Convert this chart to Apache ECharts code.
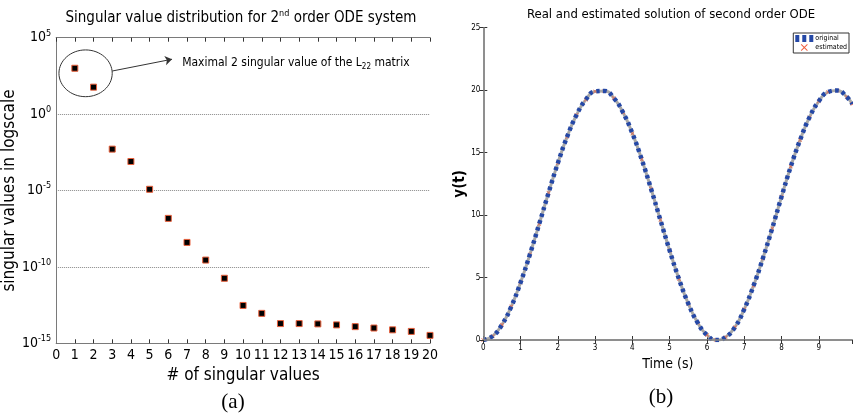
<!DOCTYPE html>
<html><head><meta charset="utf-8">
<script src="https://cdn.jsdelivr.net/npm/echarts@6/dist/echarts.min.js"></script>
<style>html,body{margin:0;padding:0;background:#fff}#c{width:853px;height:417px}</style>
</head><body><div id="c"></div>
<script>
// ---- Panel (a): singular values ----
const svIndex = [1,2,3,4,5,6,7,8,9,10,11,12,13,14,15,16,17,18,19,20];
const svValues = [1.0e3, 5.8e1, 5.1e-3, 7.9e-4, 1.2e-5, 1.5e-7, 4.0e-9, 2.8e-10, 1.8e-11, 3.0e-13,
                  9.1e-14, 1.95e-14, 1.95e-14, 1.86e-14, 1.6e-14, 1.23e-14, 1.0e-14, 7.6e-15, 6.0e-15, 3.3e-15];
// ---- Panel (b): ODE solution ----
const timeS = [0,0.25,0.5,0.75,1,1.25,1.5,1.75,2,2.25,2.5,2.75,3,3.25,3.5,3.75,4,4.25,4.5,4.75,5,
               5.25,5.5,5.75,6,6.25,6.5,6.75,7,7.25,7.5,7.75,8,8.25,8.5,8.75,9,9.25,9.5,9.75,9.9];
const yOriginal = [0,0.31,1.22,2.68,4.6,6.85,9.29,11.78,14.16,16.28,18.01,19.24,19.9,19.94,19.37,18.21,16.54,
                   14.46,12.11,9.62,7.16,4.88,2.91,1.39,0.4,0,0.23,1.02,2.46,4.34,6.53,8.93,11.46,13.89,
                   16.02,17.82,19.11,19.85,19.97,19.46,18.89];
const yEstimated = [0,0.31,1.22,2.68,4.6,6.85,9.29,11.78,14.16,16.28,18.01,19.24,19.9,19.94,19.37,18.21,16.54,
                   14.46,12.11,9.62,7.16,4.88,2.91,1.39,0.4,0,0.23,1.02,2.46,4.34,6.53,8.93,11.46,13.89,
                   16.02,17.82,19.11,19.85,19.97,19.46,18.89];
const legendNames = ['original','estimated'];

const F = '"Liberation Sans Narrow","DejaVu Sans Condensed","Liberation Sans",sans-serif';
const FS = '"Liberation Serif","DejaVu Serif",serif';
const frameCol = '#7a7a7a';
const blue = '#2548a6';

const chart = echarts.init(document.getElementById('c'), null, {renderer:'canvas'});

const svData = svIndex.map((x,i)=>[x, svValues[i]]);
const origData = timeS.map((t,i)=>[t, yOriginal[i]]);
const estData = timeS.map((t,i)=>[t, yEstimated[i]]);

const crossPath = 'path://M0,1L1,0L5,4L9,0L10,1L6,5L10,9L9,10L5,6L1,10L0,9L4,5Z';
const dashIcon = 'path://M0,0h4v7h-4zM7,0h4v7h-4zM14,0h4v7h-4z';

const option = {
  animation: false,
  grid: [
    {left:56, top:37.7, width:374, height:305.6},
    {left:483.3, top:27.7, width:369, height:312.3}
  ],
  legend: {
    data: [{name:'original', icon:dashIcon, itemStyle:{color:blue}}, {name:'estimated'}],
    orient:'vertical', right: 4, top: 33,
    itemWidth: 18, itemHeight: 7, itemGap: 2,
    padding: [2,2,2,2], borderColor:'#333', borderWidth:1, borderRadius:0,
    textStyle:{fontSize:7, fontFamily:F, color:'#000', padding:[0,0,0,-3]}
  },
  xAxis: [
    {gridIndex:0, type:'value', min:0, max:20, interval:1, position:'bottom',
     axisLine:{lineStyle:{color:frameCol, width:1}},
     axisTick:{inside:true, length:4, lineStyle:{color:'#333'}},
     axisLabel:{fontSize:14, color:'#000', margin:5, fontFamily:F},
     splitLine:{show:false},
     name:'# of singular values', nameLocation:'middle', nameGap:18,
     nameTextStyle:{fontSize:17, color:'#000', fontFamily:F}},
    {gridIndex:0, type:'value', min:0, max:20, interval:1, position:'top', z:5,
     axisLine:{lineStyle:{color:frameCol, width:1}},
     axisTick:{inside:true, length:4, lineStyle:{color:'#333'}},
     axisLabel:{show:false}, splitLine:{show:false}},
    {gridIndex:1, type:'value', min:0, max:9.9, interval:1, position:'bottom',
     axisLine:{lineStyle:{color:'#888', width:1.5}},
     axisTick:{inside:true, length:4, lineStyle:{color:'#333'}},
     axisLabel:{fontSize:8, color:'#000', margin:4, fontFamily:F, showMaxLabel:false},
     splitLine:{show:false},
     name:'Time (s)', nameLocation:'middle', nameGap:12,
     nameTextStyle:{fontSize:14, color:'#000', fontFamily:F}},
    {gridIndex:1, type:'value', min:0, max:9.9, interval:1, position:'top', z:5,
     axisLine:{lineStyle:{color:'#888', width:1.5}},
     axisTick:{inside:true, length:4, lineStyle:{color:'#333'}},
     axisLabel:{show:false}, splitLine:{show:false}}
  ],
  yAxis: [
    {gridIndex:0, type:'log', logBase:10, min:1e-15, max:1e5, interval:5, position:'left',
     axisLine:{show:true, lineStyle:{color:frameCol, width:1}},
     axisTick:{show:false},
     axisLabel:{color:'#000', margin:5,
       formatter: v => '{b|10}{e|' + Math.round(Math.log10(v)) + '}',
       rich:{b:{fontSize:14, fontFamily:F, color:'#000'}, e:{fontSize:9, fontFamily:F, color:'#000', padding:[0,0,9,0]}}},
     splitLine:{show:true, lineStyle:{type:'dotted', color:'#888', width:1}},
     name:'singular values in logscale', nameLocation:'middle', nameGap:35,
     nameTextStyle:{fontSize:17, color:'#000', fontFamily:F}},
    {gridIndex:0, type:'log', logBase:10, min:1e-15, max:1e5, interval:5, position:'right', z:5,
     axisLine:{show:true, lineStyle:{color:frameCol, width:1}},
     axisTick:{show:false}, axisLabel:{show:false}, splitLine:{show:false}},
    {gridIndex:1, type:'value', min:0, max:25, interval:5, position:'left',
     axisLine:{show:true, lineStyle:{color:'#888', width:1.5}},
     axisTick:{show:true, inside:true, length:4, lineStyle:{color:'#333'}},
     axisLabel:{fontSize:8, color:'#000', margin:3, fontFamily:F},
     splitLine:{show:false},
     name:'y(t)', nameLocation:'middle', nameGap:11,
     nameTextStyle:{fontSize:15, color:'#000', fontFamily:F, fontWeight:'bold'}},
    {gridIndex:1, type:'value', min:0, max:25, interval:5, position:'right', z:5,
     axisLine:{show:true, lineStyle:{color:'#888', width:1.5}},
     axisTick:{show:true, inside:true, length:4, lineStyle:{color:'#333'}},
     axisLabel:{show:false}, splitLine:{show:false}}
  ],
  series: [
    {type:'scatter', name:'sv', xAxisIndex:0, yAxisIndex:0, data:svData,
     symbol:'rect', symbolSize:6,
     itemStyle:{color:'#000', opacity:1, borderColor:'#e8603c', borderWidth:1},
     markLine:{silent:true, symbol:['none','arrow'], symbolSize:7,
       label:{show:false}, lineStyle:{color:'#333', type:'solid', width:1},
       data:[[{coord:[3.0, 660]},{coord:[6.2, 3890]}]]}},
    {type:'line', name:'fit', xAxisIndex:2, yAxisIndex:2, data:estData, smooth:true, symbol:'none',
     lineStyle:{color:'#a8a8a8', width:3}, z:1},
    {type:'scatter', name:'estimated', xAxisIndex:2, yAxisIndex:2, data:estData,
     symbol:crossPath, symbolSize:4, itemStyle:{color:'#f06040', opacity:1}, z:2},
    {type:'line', name:'original', xAxisIndex:2, yAxisIndex:2, data:origData, smooth:true, symbol:'none',
     lineStyle:{color:blue, width:4.5, type:[3.5,3.5]}, itemStyle:{color:blue}, z:3}
  ]
};
chart.setOption(option);

const p = (d) => chart.convertToPixel({gridIndex:0}, d);
const eL = p([0.15, 1e3]), eR = p([3.0, 1e3]);
const eT = p([1.57, Math.pow(10,4.2)]), eB = p([1.57, Math.pow(10,1.14)]);
const tPos = p([6.74, Math.pow(10,3.35)]);

chart.setOption({
  graphic: [
    {type:'ellipse', silent:true, z:10,
     shape:{cx:(eL[0]+eR[0])/2, cy:(eT[1]+eB[1])/2, rx:(eR[0]-eL[0])/2, ry:(eB[1]-eT[1])/2},
     style:{fill:'none', stroke:'#333', lineWidth:1}},
    {type:'text', silent:true, z:10, x:tPos[0], y:tPos[1],
     style:{text:'Maximal 2 singular value of the L{s|22} matrix', font:'12px '+F, fill:'#000',
       verticalAlign:'middle', align:'left',
       rich:{s:{fontSize:8, fontFamily:F, fill:'#000', padding:[8,0,0,0]}}}},
    {type:'text', silent:true, z:10, x:241, y:18,
     style:{text:'Singular value distribution for 2{s|nd} order ODE system', font:'15px '+F, fill:'#000',
       align:'center', verticalAlign:'middle',
       rich:{s:{fontSize:9, fontFamily:F, fill:'#000', padding:[0,0,9,0]}}}},
    {type:'text', silent:true, z:10, x:671, y:15,
     style:{text:'Real and estimated solution of second order ODE', font:'13px '+F, fill:'#000',
       align:'center', verticalAlign:'middle'}},
    {type:'text', silent:true, z:10, x:233, y:402,
     style:{text:'(a)', font:'21px '+FS, fill:'#000', align:'center', verticalAlign:'middle'}},
    {type:'text', silent:true, z:10, x:661, y:397,
     style:{text:'(b)', font:'21px '+FS, fill:'#000', align:'center', verticalAlign:'middle'}}
  ]
});
</script></body></html>
